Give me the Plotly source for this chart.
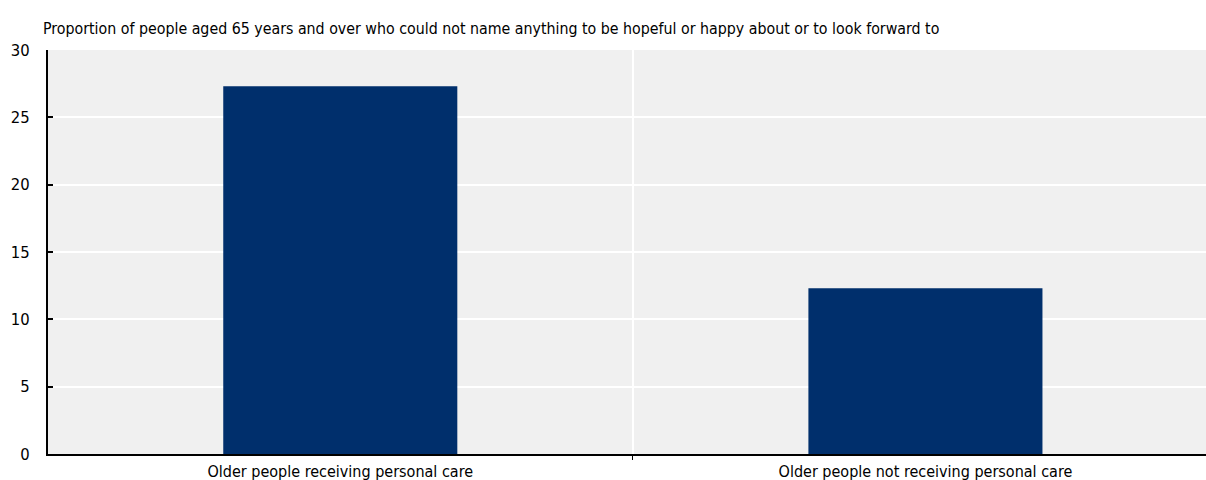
import plotly.graph_objects as go

categories = ["Older people receiving personal care", "Older people not receiving personal care"]
values = [27.3, 12.3]
title_text = "Proportion of people aged 65 years and over who could not name anything to be hopeful or happy about or to look forward to"
y_ticks = [0, 5, 10, 15, 20, 25, 30]

FONT = "Liberation Sans Narrow, Arial Narrow, DejaVu Sans Condensed, sans-serif"
FIG_W = 1218  # slightly wider than the viewport; right edge is cropped like the reference

fig = go.Figure()
fig.add_trace(go.Bar(
    x=categories, y=values,
    marker=dict(color="#002F6C", line=dict(width=0)),
    width=0.4,
))

fig.update_layout(
    width=FIG_W, height=480,
    margin=dict(l=48, r=0, t=50, b=26, autoexpand=False),
    paper_bgcolor="white",
    plot_bgcolor="#f0f0f0",
    showlegend=False,
    font=dict(family=FONT, color="black", size=16),
    title=dict(
        text=title_text, xref="container", yref="container",
        x=43/FIG_W, xanchor="left", y=1-28/480, yanchor="middle",
        font=dict(family=FONT, size=15.8, color="black"),
    ),
)

fig.update_xaxes(
    type="category",
    range=[-0.4995, 1.5],
    tickson="boundaries",
    ticks="outside", ticklen=4, tickcolor="black", tickwidth=1,
    showline=True, linecolor="black", linewidth=2,
    showgrid=True, gridcolor="white", gridwidth=1.5,
    tickfont=dict(family=FONT, size=16),
    ticklabelstandoff=2,
    automargin=False,
)
fig.update_yaxes(
    range=[0, 30],
    tickvals=y_ticks,
    ticks="inside", ticklen=5, tickcolor="black", tickwidth=1.5,
    showline=True, linecolor="black", linewidth=2,
    showgrid=True, gridcolor="white", gridwidth=1.5,
    zeroline=False,
    tickfont=dict(family=FONT, size=16.5),
    ticklabelstandoff=13,
    automargin=False,
)

fig.write_html(
    "out.html",
    config={"displayModeBar": False},
    post_script="document.body.style.margin='0';document.body.style.overflow='hidden';",
)
